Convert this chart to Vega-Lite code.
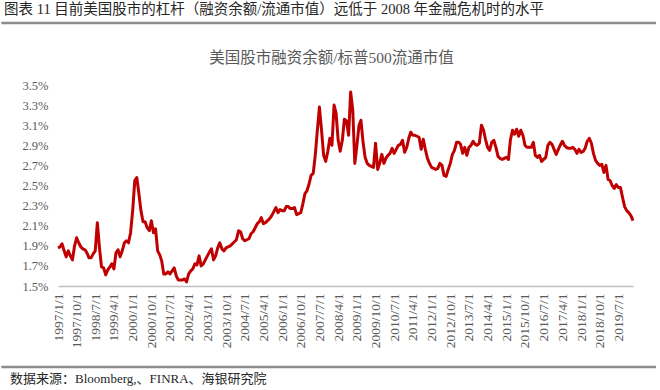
{
  "$schema": "https://vega.github.io/schema/vega-lite/v6.json",
  "background": "white",
  "padding": {"left": 0, "top": 2, "right": 0, "bottom": 0},
  "config": {"view": {"stroke": null}},
  "columns": 1,
  "spacing": 10,
  "concat": [
    {
      "width": 598,
      "height": 17,
      "title": {"text": "图表 11 目前美国股市的杠杆（融资余额/流通市值）远低于 2008 年金融危机时的水平", "anchor": "start", "frame": "bounds", "orient": "top", "font": "Liberation Serif, Noto Sans CJK SC", "fontSize": 14.5, "fontWeight": "normal", "color": "#262626", "offset": 4, "dx": 4},
      "data": {"values": [{"a": -0.0948, "b": 1, "c": 1}]},
      "mark": {"type": "rule", "color": "#8c8c8c", "strokeWidth": 2.5},
      "encoding": {
        "x": {"field": "a", "type": "quantitative", "scale": {"domain": [0, 1]}, "axis": null},
        "x2": {"field": "b"},
        "y": {"field": "c", "type": "quantitative", "scale": {"domain": [0, 1]}, "axis": null}
      }
    },
    {
      "width": 575,
      "height": 201,
      "title": {"text": "美国股市融资余额/标普500流通市值", "anchor": "middle", "font": "Liberation Serif, Noto Sans CJK SC", "fontSize": 15.5, "fontWeight": "normal", "color": "#595959", "offset": 13, "dx": -14},
      "data": {"values": [
        {"date":"1997-01-01","lev":1.88},{"date":"1997-02-01","lev":1.89},{"date":"1997-03-01","lev":1.92},{"date":"1997-04-01","lev":1.85},{"date":"1997-05-01","lev":1.79},{"date":"1997-06-01","lev":1.85},{"date":"1997-07-01","lev":1.80},{"date":"1997-08-01","lev":1.76},{"date":"1997-09-01","lev":1.90},{"date":"1997-10-01","lev":1.98},{"date":"1997-11-01","lev":1.93},{"date":"1997-12-01","lev":1.89},
        {"date":"1998-01-01","lev":1.87},{"date":"1998-02-01","lev":1.86},{"date":"1998-03-01","lev":1.83},{"date":"1998-04-01","lev":1.78},{"date":"1998-05-01","lev":1.78},{"date":"1998-06-01","lev":1.82},{"date":"1998-07-01","lev":1.85},{"date":"1998-08-01","lev":2.13},{"date":"1998-09-01","lev":1.88},{"date":"1998-10-01","lev":1.69},{"date":"1998-11-01","lev":1.68},{"date":"1998-12-01","lev":1.61},
        {"date":"1999-01-01","lev":1.66},{"date":"1999-02-01","lev":1.69},{"date":"1999-03-01","lev":1.72},{"date":"1999-04-01","lev":1.67},{"date":"1999-05-01","lev":1.83},{"date":"1999-06-01","lev":1.86},{"date":"1999-07-01","lev":1.79},{"date":"1999-08-01","lev":1.85},{"date":"1999-09-01","lev":1.93},{"date":"1999-10-01","lev":1.95},{"date":"1999-11-01","lev":1.93},{"date":"1999-12-01","lev":2.03},
        {"date":"2000-01-01","lev":2.25},{"date":"2000-02-01","lev":2.55},{"date":"2000-03-01","lev":2.58},{"date":"2000-04-01","lev":2.42},{"date":"2000-05-01","lev":2.25},{"date":"2000-06-01","lev":2.14},{"date":"2000-07-01","lev":2.14},{"date":"2000-08-01","lev":2.08},{"date":"2000-09-01","lev":2.05},{"date":"2000-10-01","lev":2.15},{"date":"2000-11-01","lev":2.03},{"date":"2000-12-01","lev":2.07},
        {"date":"2001-01-01","lev":1.85},{"date":"2001-02-01","lev":1.81},{"date":"2001-03-01","lev":1.75},{"date":"2001-04-01","lev":1.62},{"date":"2001-05-01","lev":1.62},{"date":"2001-06-01","lev":1.64},{"date":"2001-07-01","lev":1.62},{"date":"2001-08-01","lev":1.65},{"date":"2001-09-01","lev":1.68},{"date":"2001-10-01","lev":1.60},{"date":"2001-11-01","lev":1.56},{"date":"2001-12-01","lev":1.56},
        {"date":"2002-01-01","lev":1.56},{"date":"2002-02-01","lev":1.57},{"date":"2002-03-01","lev":1.54},{"date":"2002-04-01","lev":1.62},{"date":"2002-05-01","lev":1.65},{"date":"2002-06-01","lev":1.67},{"date":"2002-07-01","lev":1.72},{"date":"2002-08-01","lev":1.71},{"date":"2002-09-01","lev":1.80},{"date":"2002-10-01","lev":1.70},{"date":"2002-11-01","lev":1.72},{"date":"2002-12-01","lev":1.76},
        {"date":"2003-01-01","lev":1.80},{"date":"2003-02-01","lev":1.84},{"date":"2003-03-01","lev":1.87},{"date":"2003-04-01","lev":1.76},{"date":"2003-05-01","lev":1.80},{"date":"2003-06-01","lev":1.88},{"date":"2003-07-01","lev":1.93},{"date":"2003-08-01","lev":1.87},{"date":"2003-09-01","lev":1.85},{"date":"2003-10-01","lev":1.88},{"date":"2003-11-01","lev":1.89},{"date":"2003-12-01","lev":1.90},
        {"date":"2004-01-01","lev":1.92},{"date":"2004-02-01","lev":1.94},{"date":"2004-03-01","lev":1.96},{"date":"2004-04-01","lev":2.05},{"date":"2004-05-01","lev":2.04},{"date":"2004-06-01","lev":1.97},{"date":"2004-07-01","lev":1.95},{"date":"2004-08-01","lev":1.96},{"date":"2004-09-01","lev":1.97},{"date":"2004-10-01","lev":2.02},{"date":"2004-11-01","lev":2.04},{"date":"2004-12-01","lev":2.08},
        {"date":"2005-01-01","lev":2.12},{"date":"2005-02-01","lev":2.14},{"date":"2005-03-01","lev":2.18},{"date":"2005-04-01","lev":2.12},{"date":"2005-05-01","lev":2.13},{"date":"2005-06-01","lev":2.15},{"date":"2005-07-01","lev":2.17},{"date":"2005-08-01","lev":2.20},{"date":"2005-09-01","lev":2.24},{"date":"2005-10-01","lev":2.28},{"date":"2005-11-01","lev":2.23},{"date":"2005-12-01","lev":2.26},
        {"date":"2006-01-01","lev":2.25},{"date":"2006-02-01","lev":2.25},{"date":"2006-03-01","lev":2.29},{"date":"2006-04-01","lev":2.29},{"date":"2006-05-01","lev":2.27},{"date":"2006-06-01","lev":2.27},{"date":"2006-07-01","lev":2.28},{"date":"2006-08-01","lev":2.21},{"date":"2006-09-01","lev":2.22},{"date":"2006-10-01","lev":2.23},{"date":"2006-11-01","lev":2.32},{"date":"2006-12-01","lev":2.42},
        {"date":"2007-01-01","lev":2.45},{"date":"2007-02-01","lev":2.52},{"date":"2007-03-01","lev":2.60},{"date":"2007-04-01","lev":2.62},{"date":"2007-05-01","lev":2.80},{"date":"2007-06-01","lev":3.05},{"date":"2007-07-01","lev":3.28},{"date":"2007-08-01","lev":3.05},{"date":"2007-09-01","lev":2.80},{"date":"2007-10-01","lev":2.74},{"date":"2007-11-01","lev":2.84},{"date":"2007-12-01","lev":2.97},
        {"date":"2008-01-01","lev":2.90},{"date":"2008-02-01","lev":3.30},{"date":"2008-03-01","lev":3.22},{"date":"2008-04-01","lev":2.95},{"date":"2008-05-01","lev":2.84},{"date":"2008-06-01","lev":2.95},{"date":"2008-07-01","lev":3.16},{"date":"2008-08-01","lev":3.14},{"date":"2008-09-01","lev":3.00},{"date":"2008-10-01","lev":3.43},{"date":"2008-11-01","lev":3.25},{"date":"2008-12-01","lev":2.72},
        {"date":"2009-01-01","lev":2.90},{"date":"2009-02-01","lev":3.10},{"date":"2009-03-01","lev":3.15},{"date":"2009-04-01","lev":2.93},{"date":"2009-05-01","lev":2.78},{"date":"2009-06-01","lev":2.72},{"date":"2009-07-01","lev":2.70},{"date":"2009-08-01","lev":2.69},{"date":"2009-09-01","lev":2.68},{"date":"2009-10-01","lev":2.92},{"date":"2009-11-01","lev":2.66},{"date":"2009-12-01","lev":2.72},
        {"date":"2010-01-01","lev":2.81},{"date":"2010-02-01","lev":2.72},{"date":"2010-03-01","lev":2.77},{"date":"2010-04-01","lev":2.80},{"date":"2010-05-01","lev":2.82},{"date":"2010-06-01","lev":2.87},{"date":"2010-07-01","lev":2.82},{"date":"2010-08-01","lev":2.86},{"date":"2010-09-01","lev":2.90},{"date":"2010-10-01","lev":2.91},{"date":"2010-11-01","lev":2.95},{"date":"2010-12-01","lev":2.83},
        {"date":"2011-01-01","lev":2.88},{"date":"2011-02-01","lev":2.97},{"date":"2011-03-01","lev":3.03},{"date":"2011-04-01","lev":3.00},{"date":"2011-05-01","lev":3.00},{"date":"2011-06-01","lev":2.99},{"date":"2011-07-01","lev":2.98},{"date":"2011-08-01","lev":2.86},{"date":"2011-09-01","lev":2.96},{"date":"2011-10-01","lev":2.86},{"date":"2011-11-01","lev":2.77},{"date":"2011-12-01","lev":2.72},
        {"date":"2012-01-01","lev":2.68},{"date":"2012-02-01","lev":2.67},{"date":"2012-03-01","lev":2.66},{"date":"2012-04-01","lev":2.67},{"date":"2012-05-01","lev":2.72},{"date":"2012-06-01","lev":2.70},{"date":"2012-07-01","lev":2.60},{"date":"2012-08-01","lev":2.59},{"date":"2012-09-01","lev":2.66},{"date":"2012-10-01","lev":2.72},{"date":"2012-11-01","lev":2.81},{"date":"2012-12-01","lev":2.85},
        {"date":"2013-01-01","lev":2.93},{"date":"2013-02-01","lev":2.93},{"date":"2013-03-01","lev":2.91},{"date":"2013-04-01","lev":2.82},{"date":"2013-05-01","lev":2.88},{"date":"2013-06-01","lev":2.80},{"date":"2013-07-01","lev":2.88},{"date":"2013-08-01","lev":2.90},{"date":"2013-09-01","lev":2.94},{"date":"2013-10-01","lev":2.91},{"date":"2013-11-01","lev":2.90},{"date":"2013-12-01","lev":2.92},
        {"date":"2014-01-01","lev":3.10},{"date":"2014-02-01","lev":3.05},{"date":"2014-03-01","lev":2.96},{"date":"2014-04-01","lev":2.88},{"date":"2014-05-01","lev":2.85},{"date":"2014-06-01","lev":2.93},{"date":"2014-07-01","lev":2.95},{"date":"2014-08-01","lev":2.88},{"date":"2014-09-01","lev":2.79},{"date":"2014-10-01","lev":2.77},{"date":"2014-11-01","lev":2.76},{"date":"2014-12-01","lev":2.77},
        {"date":"2015-01-01","lev":2.78},{"date":"2015-02-01","lev":2.76},{"date":"2015-03-01","lev":2.95},{"date":"2015-04-01","lev":3.05},{"date":"2015-05-01","lev":3.01},{"date":"2015-06-01","lev":3.06},{"date":"2015-07-01","lev":2.99},{"date":"2015-08-01","lev":3.05},{"date":"2015-09-01","lev":3.00},{"date":"2015-10-01","lev":2.90},{"date":"2015-11-01","lev":2.88},{"date":"2015-12-01","lev":2.88},
        {"date":"2016-01-01","lev":2.88},{"date":"2016-02-01","lev":2.93},{"date":"2016-03-01","lev":2.80},{"date":"2016-04-01","lev":2.78},{"date":"2016-05-01","lev":2.80},{"date":"2016-06-01","lev":2.74},{"date":"2016-07-01","lev":2.76},{"date":"2016-08-01","lev":2.78},{"date":"2016-09-01","lev":2.90},{"date":"2016-10-01","lev":2.93},{"date":"2016-11-01","lev":2.91},{"date":"2016-12-01","lev":2.86},
        {"date":"2017-01-01","lev":2.81},{"date":"2017-02-01","lev":2.86},{"date":"2017-03-01","lev":2.90},{"date":"2017-04-01","lev":2.94},{"date":"2017-05-01","lev":2.90},{"date":"2017-06-01","lev":2.88},{"date":"2017-07-01","lev":2.87},{"date":"2017-08-01","lev":2.87},{"date":"2017-09-01","lev":2.88},{"date":"2017-10-01","lev":2.86},{"date":"2017-11-01","lev":2.82},{"date":"2017-12-01","lev":2.86},
        {"date":"2018-01-01","lev":2.83},{"date":"2018-02-01","lev":2.84},{"date":"2018-03-01","lev":2.87},{"date":"2018-04-01","lev":2.94},{"date":"2018-05-01","lev":2.97},{"date":"2018-06-01","lev":2.92},{"date":"2018-07-01","lev":2.82},{"date":"2018-08-01","lev":2.75},{"date":"2018-09-01","lev":2.72},{"date":"2018-10-01","lev":2.70},{"date":"2018-11-01","lev":2.71},{"date":"2018-12-01","lev":2.63},
        {"date":"2019-01-01","lev":2.70},{"date":"2019-02-01","lev":2.56},{"date":"2019-03-01","lev":2.55},{"date":"2019-04-01","lev":2.50},{"date":"2019-05-01","lev":2.47},{"date":"2019-06-01","lev":2.51},{"date":"2019-07-01","lev":2.48},{"date":"2019-08-01","lev":2.48},{"date":"2019-09-01","lev":2.38},{"date":"2019-10-01","lev":2.29},{"date":"2019-11-01","lev":2.25},{"date":"2019-12-01","lev":2.23},
        {"date":"2020-01-01","lev":2.20},{"date":"2020-02-01","lev":2.15}
      ]},
      "mark": {"type": "line", "color": "#c00000", "strokeWidth": 3, "strokeJoin": "round"},
      "encoding": {
        "x": {
          "field": "date", "type": "temporal",
          "scale": {"type": "utc", "domain": [{"year": 1997, "month": 1, "date": 1, "utc": true}, {"year": 2020, "month": 2, "date": 1, "utc": true}]},
          "axis": {
            "title": null,
            "values": [
              {"year":1997,"month":1,"date":1,"utc":true},{"year":1997,"month":10,"date":1,"utc":true},{"year":1998,"month":7,"date":1,"utc":true},{"year":1999,"month":4,"date":1,"utc":true},
              {"year":2000,"month":1,"date":1,"utc":true},{"year":2000,"month":10,"date":1,"utc":true},{"year":2001,"month":7,"date":1,"utc":true},{"year":2002,"month":4,"date":1,"utc":true},
              {"year":2003,"month":1,"date":1,"utc":true},{"year":2003,"month":10,"date":1,"utc":true},{"year":2004,"month":7,"date":1,"utc":true},{"year":2005,"month":4,"date":1,"utc":true},
              {"year":2006,"month":1,"date":1,"utc":true},{"year":2006,"month":10,"date":1,"utc":true},{"year":2007,"month":7,"date":1,"utc":true},{"year":2008,"month":4,"date":1,"utc":true},
              {"year":2009,"month":1,"date":1,"utc":true},{"year":2009,"month":10,"date":1,"utc":true},{"year":2010,"month":7,"date":1,"utc":true},{"year":2011,"month":4,"date":1,"utc":true},
              {"year":2012,"month":1,"date":1,"utc":true},{"year":2012,"month":10,"date":1,"utc":true},{"year":2013,"month":7,"date":1,"utc":true},{"year":2014,"month":4,"date":1,"utc":true},
              {"year":2015,"month":1,"date":1,"utc":true},{"year":2015,"month":10,"date":1,"utc":true},{"year":2016,"month":7,"date":1,"utc":true},{"year":2017,"month":4,"date":1,"utc":true},
              {"year":2018,"month":1,"date":1,"utc":true},{"year":2018,"month":10,"date":1,"utc":true},{"year":2019,"month":7,"date":1,"utc":true}
            ],
            "format": "%Y/%-m/%-d",
            "labelAngle": 270,
            "labelFont": "Liberation Serif",
            "labelFontSize": 13.5,
            "labelColor": "#595959",
            "labelPadding": 7,
            "labelOverlap": false,
            "labelFlush": false,
            "ticks": false,
            "grid": false,
            "domainColor": "#bfbfbf",
            "domainWidth": 1.5
          }
        },
        "y": {
          "field": "lev", "type": "quantitative",
          "scale": {"domain": [1.5, 3.5], "zero": false, "nice": false},
          "axis": {
            "title": null,
            "values": [1.5, 1.7, 1.9, 2.1, 2.3, 2.5, 2.7, 2.9, 3.1, 3.3, 3.5],
            "labelExpr": "format(datum.value, '.1f') + '%'",
            "labelFont": "Liberation Serif",
            "labelFontSize": 12.5,
            "labelColor": "#595959",
            "labelPadding": 10,
            "minExtent": 56,
            "ticks": false,
            "grid": false,
            "domain": false
          }
        }
      }
    },
    {
      "width": 598,
      "height": 9,
      "title": {"text": "数据来源：Bloomberg,、FINRA、海银研究院", "anchor": "start", "frame": "bounds", "orient": "bottom", "font": "Liberation Serif, Noto Sans CJK SC", "fontSize": 13, "fontWeight": "normal", "color": "#262626", "offset": 5, "dx": 10},
      "data": {"values": [{"a": -0.0948, "b": 1, "c": 0}]},
      "mark": {"type": "rule", "color": "#8c8c8c", "strokeWidth": 2.5},
      "encoding": {
        "x": {"field": "a", "type": "quantitative", "scale": {"domain": [0, 1]}, "axis": null},
        "x2": {"field": "b"},
        "y": {"field": "c", "type": "quantitative", "scale": {"domain": [0, 1]}, "axis": null}
      }
    }
  ]
}
